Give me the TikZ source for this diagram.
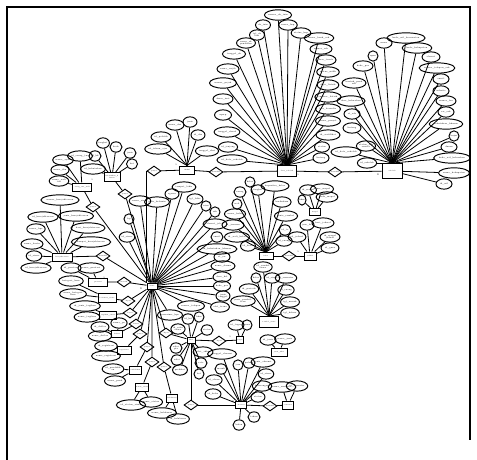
\documentclass[tikz,border=0pt]{standalone}
\usetikzlibrary{shapes.geometric}
\tikzset{
  x=1pt,y=-1pt,
  tiny/.style={font=\fontsize{2.1}{2.4}\selectfont},
  etiny/.style={font=\fontsize{1.6}{1.9}\selectfont},
  attr/.style={tiny,ellipse,draw,line width=0.95pt,inner xsep=0pt,inner ysep=0pt,minimum height=10.3pt,align=center},
  ent/.style={etiny,rectangle,draw,line width=1pt,minimum width=17pt,minimum height=8pt,inner sep=0.3pt,align=center},
  rel/.style={etiny,diamond,draw,line width=0.9pt,minimum width=14pt,minimum height=10pt,inner sep=0pt},
  conn/.style={line width=0.8pt},
  card/.style={font=\fontsize{2.2}{2.2}\selectfont,inner sep=0pt},
  frame/.style={line width=1.5pt}
}
\newcommand\attrN[5]{\node[attr,minimum width=#4pt] (#1) at (#2,#3) {#5};}
\begin{document}
\begin{tikzpicture}
\useasboundingbox (0,0) rectangle (477,460);
\draw[frame] (7,460) -- (7,7) -- (470,7) -- (470,440);

% ---------------- entities ----------------
\node[ent,minimum width=19pt,minimum height=11pt] (dsk) at (287,171) {data\_sekolah};
\node[ent,minimum width=20pt,minimum height=15pt] (sek) at (392,171) {sekolah};
\node[ent,minimum width=15pt] (eks) at (187,170) {ekskul};
\node[ent,minimum width=19pt] (ortu) at (82,187) {orang\_tua\_wali};
\node[ent,minimum width=16pt,minimum height=9pt] (kk) at (112,177) {kebutuhan\_k\\husus};
\node[ent,minimum width=20pt] (kes) at (62,257) {kesejahteraan};
\node[ent,minimum width=19pt] (pres) at (98,282) {prestasi};
\node[ent,minimum width=18pt,minimum height=9pt] (beas) at (107,298) {beasiswa\_siswa};
\node[ent,minimum width=17pt] (tag) at (108,315) {tagihan\_siswa};
\node[ent,minimum width=11pt,minimum height=7pt] (daft) at (117,334) {daftar};
\node[ent,minimum width=14pt,minimum height=8pt] (reg) at (124,350) {registrasi};
\node[ent,minimum width=12pt,minimum height=8pt] (pend) at (135,370) {pendidikan};
\node[ent,minimum width=13pt,minimum height=8pt] (stat) at (142,387) {status\_siswa};
\node[ent,minimum width=11pt,minimum height=8pt] (lulus) at (172,398) {kelulusan};
\node[ent,minimum width=10pt,minimum height=6pt] (sis) at (152,286) {siswa};
\node[ent,minimum width=14pt,minimum height=7pt] (kel) at (266,256) {kelas};
\node[ent,minimum width=12pt,minimum height=8pt] (jad) at (310,256) {jadwal};
\node[ent,minimum width=11pt,minimum height=7pt] (map) at (315,212) {mapel};
\node[ent,minimum width=19pt,minimum height=11pt] (rom) at (269,322) {rombel\_siswa};
\node[ent,minimum width=8pt,minimum height=6pt] (nil) at (191,340) {nilai};
\node[ent,minimum width=7pt,minimum height=7pt] (tgs) at (240,340) {tugas};
\node[ent,minimum width=16pt,minimum height=8pt] (jn) at (279,352) {jenis\_nilai};
\node[ent,minimum width=11pt,minimum height=7pt] (abs) at (241,405) {absensi};
\node[ent,minimum width=11pt,minimum height=8pt] (sem) at (288,405) {semester};

% ---------------- relationships ----------------
\node[rel] (r1) at (154,171) {punya};
\node[rel] (r2) at (216,172) {memiliki};
\node[rel] (r3) at (335,172) {memiliki};
\node[rel] (r4) at (125,194) {punya};
\node[rel] (r5) at (93,207) {punya};
\node[rel] (r6) at (103,256) {memiliki};
\node[rel] (r7) at (124,282) {meraih};
\node[rel] (r8) at (128,301) {dapat};
\node[rel] (r9) at (130,313) {bayar};
\node[rel] (r10) at (136,324) {daftar};
\node[rel] (r11) at (140,334) {punya};
\node[rel] (r12) at (147,347) {punya};
\node[rel] (r13) at (152,362) {punya};
\node[rel] (r14) at (164,367) {punya};
\node[rel] (r15) at (166,333) {dapat};
\node[rel] (r16) at (219,341) {dapat};
\node[rel] (r17) at (289,256) {memiliki};
\node[rel] (r18) at (191,405) {punya};
\node[rel] (r19) at (270,406) {memiliki};

% ---------------- data_sekolah attributes ----------------
\attrN{t1}{278}{15}{24}{nomor\_sk\_izin}
\attrN{t2}{263}{25}{15}{sk\_izin}
\attrN{t3}{288}{25}{17}{nama\_kep}
\attrN{t4}{301}{33}{19}{status\_kep}
\attrN{t5}{257}{35}{15}{tgl\_sk\\izin}
\attrN{t6}{246}{43}{19}{nama\_sk\\pendirian}
\attrN{t7}{319}{38}{25}{nama\_bank\_rek}
\attrN{t8}{321}{49}{22}{nomor\_rek}
\attrN{t9}{234}{54}{23}{tanggal\_sk}
\attrN{t10}{326}{60}{20}{luas\_tanah}
\attrN{t11}{228}{69}{22}{nama\_wajib}
\attrN{t12}{328}{72}{20}{status\_milik}
\attrN{t13}{223}{83}{27}{nomor\_pajak}
\attrN{t14}{328}{85}{20}{daya\_listrik}
\attrN{t15}{223}{99}{20}{akses\_inet}
\attrN{t16}{328}{97}{22}{sumber\_listrik}
\attrN{t17}{223}{115}{17}{npwp}
\attrN{t18}{328}{109}{25}{bos\_bersedia}
\attrN{t19}{328}{121}{25}{nama\_penyel}
\attrN{t20}{227}{132}{22}{tanggal\_akred}
\attrN{t21}{328}{135}{24}{id\_sertifikat}
\attrN{t22}{228}{147}{15}{id\_jenjang}
\attrN{t23}{322}{147}{15}{status}
\attrN{t24}{232}{160}{22}{id\_data\_sekolah}
\attrN{t25}{321}{158}{16}{lintang}
\foreach \i in {1,...,25} \draw[conn] (t\i) -- (dsk.north);

% ---------------- sekolah attributes ----------------
\attrN{s1}{406}{38}{30}{kode\_wil\_kecamatan}
\attrN{s2}{384}{43}{16}{nama}
\attrN{s3}{417}{48}{26}{kode\_kabupaten}
\attrN{s4}{373}{56}{10}{npsn}
\attrN{s5}{431}{57}{18}{alamat}
\attrN{s6}{363}{66}{20}{kode\_pos}
\attrN{s7}{437}{68}{28}{nomor\_telepon\_sek}
\attrN{s8}{354}{83}{24}{bentuk\_pend\\sek}
\attrN{s9}{441}{79}{16}{email}
\attrN{s10}{441}{91}{16}{website}
\attrN{s11}{351}{101}{22}{desa\_kelurahan}
\attrN{s12}{446}{101}{20}{nomor\_fax}
\attrN{s13}{352}{114}{16}{rt\_sek}
\attrN{s14}{446}{112}{16}{rw\_sek}
\attrN{s15}{352}{128}{18}{lintang}
\attrN{s16}{446}{124}{26}{kebutuhan\_khusus}
\attrN{s17}{454}{136}{10}{bujur}
\attrN{s18}{449}{147}{16}{dusun}
\attrN{s19}{366}{146}{16}{status\_sek\\swasta}
\attrN{s20}{346}{152}{22}{id\_data\_sekolah}
\attrN{s21}{452}{158}{24}{kode\_wil\_kelurahan}
\attrN{s22}{367}{163}{14}{id\_sekolah}
\attrN{s23}{454}{173}{26}{nama\_kabupaten}
\attrN{s24}{444}{184}{16}{id\_wil}
\foreach \i in {1,...,22} \draw[conn] (s\i) -- (sek.north);
\foreach \i in {23,24} \draw[conn] (s\i) -- (sek);

% ---------------- ekskul attributes ----------------
\attrN{d1}{175}{125}{18}{nama\_eks}
\attrN{d2}{190}{122}{14}{jenis}
\attrN{d3}{198}{135}{14}{id\_eks}
\attrN{d4}{161}{137}{20}{id\_pelatih}
\attrN{d5}{158}{149}{22}{id\_tahun\_ajar}
\attrN{d6}{207}{151}{20}{tanggal\_ekst}
\foreach \i in {1,...,6} \draw[conn] (d\i) -- (eks.north);

% ---------------- orang_tua_wali ----------------
\attrN{a1}{63}{160}{18}{nama\_ayah}
\attrN{a2}{80}{156}{16}{id\_orang\_tua}
\attrN{a3}{60}{170}{12}{nama\_ibu}
\attrN{a4}{59}{181}{14}{nama\_wali\\tua}
\foreach \i in {1,...,4} \draw[conn] (a\i) -- (ortu);

% ---------------- kebutuhan_khusus ----------------
\attrN{b1}{95}{156}{12}{id\_kk}
\attrN{b2}{103}{143}{12}{tingkat}
\attrN{b3}{116}{147}{12}{kode}
\attrN{b4}{130}{153}{12}{jenis}
\attrN{b5}{132}{164}{11}{ket}
\attrN{b6}{93}{169}{20}{id\_kebutuhan}
\foreach \i in {1,...,6} \draw[conn] (b\i) -- (kk);

% ---------------- kesejahteraan ----------------
\attrN{c1}{60}{200}{26}{nomor\_kesejahteraan}
\attrN{c2}{43}{217}{20}{id\_kesejahteraan}
\attrN{c3}{76}{216}{28}{jenis\_kesejahteraan}
\attrN{c4}{36}{229}{14}{nama\_kps}
\attrN{c5}{88}{228}{24}{dari\_kesejahteraan}
\attrN{c6}{32}{244}{16}{nama\_kartu}
\attrN{c7}{91}{242}{22}{sampai\_kesejahteraan}
\attrN{c8}{34}{256}{12}{id\_siswa}
\attrN{c9}{36}{268}{18}{id\_kesejahteraan}
\foreach \i in {1,...,9} \draw[conn] (c\i) -- (kes);

% ---------------- small entities left ----------------
\attrN{pr1}{71}{268}{18}{id\_prestasi}
\attrN{pr2}{91}{268}{18}{nama\_prestasi}
\attrN{be1}{71}{281}{22}{kategori\_kom}
\attrN{be2}{73}{294}{22}{nama\_kategori\\kom}
\attrN{tg1}{85}{306}{20}{id\_jenis\_tagihan}
\attrN{tg2}{87}{317}{20}{nama\_tagihan}
\attrN{g1}{119}{323}{12}{nama\_ps}
\attrN{g2}{100}{327}{18}{id\_daftar}
\attrN{g3}{100}{336}{20}{nama\_daftar}
\attrN{h1}{106}{346}{18}{id\_registrasi}
\attrN{h2}{106}{356}{20}{nama\_registrasi}
\attrN{i1}{113}{369}{14}{id\_pendidik\\an}
\attrN{i2}{115}{381}{19}{nama\_pend}
\attrN{j1}{131}{405}{21}{id\_status\_siswa}
\attrN{j2}{151}{402}{17}{nama\_status}
\attrN{k1}{162}{413}{22}{nama\_kelulusan}
\attrN{k2}{178}{419}{18}{id\_kelulusan}
\foreach \a/\e in {pr1/pres,pr2/pres,be1/beas,be2/beas,tg1/tag,tg2/tag,g1/daft,g2/daft,g3/daft,h1/reg,h2/reg,i1/pend,i2/pend,j1/stat,j2/stat,k1/lulus,k2/lulus} \draw[conn] (\a) -- (\e);

% ---------------- siswa attributes ----------------
\attrN{x1}{140}{201}{16}{nama\_siswa}
\attrN{x2}{157}{202}{18}{jenis\_kelamin}
\attrN{x3}{172}{194}{14}{agama}
\attrN{x4}{184}{187}{16}{tempat\_lahir}
\attrN{x5}{195}{199}{14}{tgl\_lahir}
\attrN{x6}{206}{206}{10}{nisn}
\attrN{x7}{215}{212}{10}{nik}
\attrN{x8}{215}{224}{20}{alamat\_jalan}
\attrN{x9}{217}{237}{12}{email}
\attrN{x10}{217}{249}{26}{id\_kebutuhan\_khusus}
\attrN{x11}{222}{257}{16}{rt\_rw}
\attrN{x12}{223}{266}{24}{nama\_dusun}
\attrN{x13}{222}{277}{18}{desa\_kel}
\attrN{x14}{222}{286}{16}{kode\_pos}
\attrN{x15}{223}{296}{14}{jenis\\tinggal}
\attrN{x16}{220}{307}{18}{alat\_trans}
\attrN{x17}{191}{306}{22}{nomor\_telepon}
\attrN{x18}{129}{219}{10}{hp}
\attrN{x19}{127}{237}{10}{id\_siswa}
\attrN{x20}{170}{315}{16}{penerima\_kps}
\foreach \i in {1,...,20} \draw[conn] (x\i) -- (sis);

% ---------------- kelas attributes ----------------
\attrN{kl1}{250}{182}{10}{kelas}
\attrN{kl2}{240}{192}{12}{ruang}
\attrN{kl3}{258}{190}{14}{tingkat}
\attrN{kl4}{275}{186}{20}{kapasitas\_kelas}
\attrN{kl5}{237}{204}{10}{wali}
\attrN{kl6}{235}{214}{18}{nama\_kelas}
\attrN{kl7}{233}{225}{22}{id\_jurusan}
\attrN{kl8}{237}{237}{22}{id\_wali\_kelas}
\attrN{kl9}{248}{246}{12}{id\_kelas}
\attrN{kl10}{282}{202}{18}{kurikulum}
\attrN{kl11}{286}{216}{18}{jenis\_rombel}
\attrN{kl12}{285}{230}{12}{id\_ta}
\attrN{kl13}{284}{241}{14}{id\_ruang}
\foreach \i in {1,...,13} \draw[conn] (kl\i) -- (kel.north);

% ---------------- jadwal / mapel ----------------
\attrN{jd1}{307}{225}{14}{jam\_ke}
\attrN{jd2}{323}{223}{22}{hari\_jadwal}
\attrN{jd3}{330}{237}{20}{id\_mapel\\jadwal}
\attrN{jd4}{330}{248}{18}{id\_guru}
\attrN{jd5}{297}{237}{12}{id\_jadwal}
\foreach \i in {1,...,5} \draw[conn] (jd\i) -- (jad);
\attrN{m1}{308}{190}{12}{id\_mapel}
\attrN{m2}{322}{189}{18}{nama\_mapel}
\attrN{m3}{327}{197}{18}{kode\_mapel}
\attrN{m4}{302}{200}{8}{kkm}
\foreach \i in {1,...,4} \draw[conn] (m\i) -- (map);

% ---------------- rombel_siswa ----------------
\attrN{p1}{263}{267}{14}{id\_rombel\\siswa}
\attrN{p2}{256}{278}{10}{kelas}
\attrN{p3}{272}{278}{12}{id\_siswa}
\attrN{p4}{286}{278}{18}{id\_semester}
\attrN{p5}{249}{289}{18}{id\_periode}
\attrN{p6}{286}{290}{16}{id\_ruang}
\attrN{p7}{243}{301}{18}{jenis\_pendaft\\aran}
\attrN{p8}{290}{302}{16}{tgl\_masuk}
\attrN{p9}{290}{313}{14}{tgl\_keluar}
\foreach \i in {1,...,9} \draw[conn] (p\i) -- (rom.north);

% ---------------- nilai ----------------
\attrN{u1}{178}{329}{12}{id\_nilai\\siswa}
\attrN{u2}{188}{319}{12}{id\_kd}
\attrN{u3}{199}{317}{10}{kkm}
\attrN{u4}{207}{330}{12}{status}
\attrN{u5}{176}{348}{12}{nilai\\pts}
\attrN{u6}{177}{360}{12}{nilai}
\attrN{u7}{180}{370}{12}{predikat}
\attrN{u8}{203}{352}{12}{nilai\_akhir}
\attrN{u9}{201}{363}{12}{rata}
\attrN{u10}{199}{374}{10}{ket}
\foreach \i in {1,...,10} \draw[conn] (u\i) -- (nil);
\attrN{v1}{236}{325}{12}{id\_tugas}
\attrN{v2}{247}{325}{10}{nama}
\foreach \i in {1,2} \draw[conn] (v\i) -- (tgs);
\attrN{w1}{268}{340}{16}{id\_jenis}
\attrN{w2}{285}{339}{18}{nama\_jenis}
\foreach \i in {1,2} \draw[conn] (w\i) -- (jn);

% ---------------- absensi / semester ----------------
\attrN{y1}{222}{354}{26}{tanggal\_absensi}
\attrN{y2}{238}{365}{10}{jam}
\attrN{y3}{221}{369}{12}{masuk}
\attrN{y4}{249}{363}{12}{pulang}
\attrN{y5}{263}{362}{20}{jenis\_absensi}
\attrN{y6}{266}{374}{14}{id\_siswa}
\attrN{y7}{262}{386}{18}{keterangan}
\attrN{y8}{258}{397}{14}{status}
\attrN{y9}{214}{380}{14}{id\_absen}
\attrN{y10}{213}{394}{16}{id\_kelas}
\attrN{y11}{239}{425}{12}{bulan}
\attrN{y12}{254}{417}{12}{tahun}
\foreach \i in {1,...,12} \draw[conn] (y\i) -- (abs);
\attrN{z1}{282}{387}{22}{nama\_semester}
\attrN{z2}{297}{386}{16}{id\_semester}
\foreach \i in {1,2} \draw[conn] (z\i) -- (sem);

% ---------------- relationship connectors ----------------
\draw[conn] (r1.west) -- (r1.west |- sis.north);
\draw[conn] (r1) -- (eks);
\draw[conn] (eks) -- (r2) -- (dsk);
\draw[conn] (dsk) -- (r3) -- (sek);
\draw[conn] (kk) -- (r4) -- (sis);
\draw[conn] (ortu) -- (r5) -- (sis);
\draw[conn] (kes) -- (r6) -- (sis);
\draw[conn] (pres) -- (r7) -- (sis);
\draw[conn] (beas) -- (r8) -- (sis);
\draw[conn] (tag) -- (r9) -- (sis);
\draw[conn] (daft) -- (r10) -- (sis);
\draw[conn] (reg) -- (r11) -- (sis);
\draw[conn] (pend) -- (r12) -- (sis);
\draw[conn] (stat) -- (r13) -- (sis);
\draw[conn] (lulus) -- (r14) -- (sis);
\draw[conn] (sis) -- (r15) -- (nil);
\draw[conn] (nil) -- (r16) -- (tgs);
\draw[conn] (kel) -- (r17) -- (jad);
\draw[conn] (nil) -- (r18);
\draw[conn] (r18) -- (abs);
\draw[conn] (abs) -- (r19) -- (sem);

% ---------------- cardinalities ----------------
\node[card] at (176,165) {1};
\node[card] at (276,166) {1};
\node[card] at (298,175) {1};
\node[card] at (378,175) {N};
\node[card] at (92,180) {1};
\node[card] at (72,253) {1};
\node[card] at (141,289) {N};
\node[card] at (104,278) {1};
\node[card] at (230,337) {1};
\node[card] at (233,402) {N};
\node[card] at (298,252) {1};
\end{tikzpicture}
\end{document}
